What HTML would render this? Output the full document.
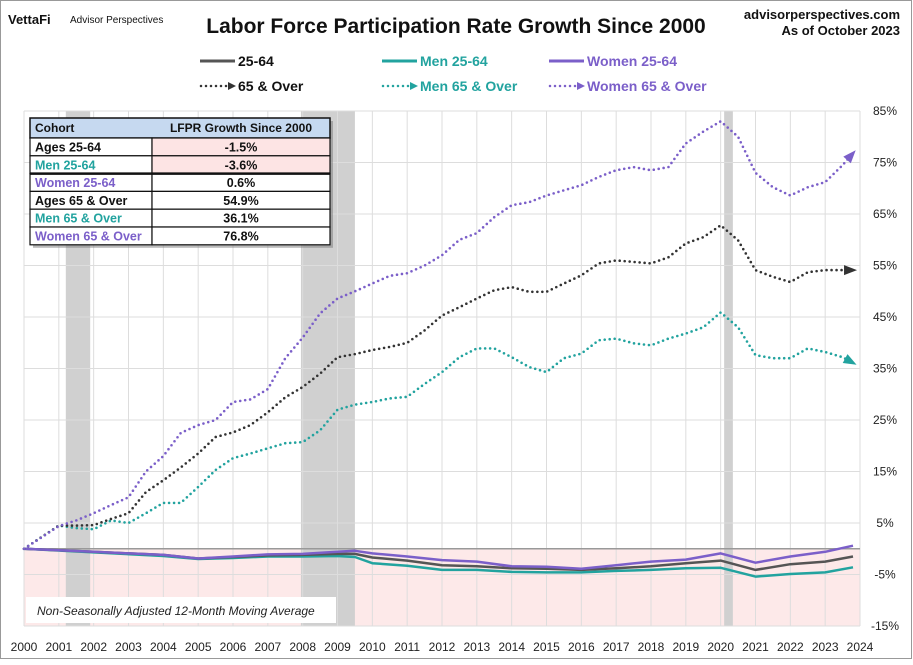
<!DOCTYPE html>
<html><head><meta charset="utf-8"><style>
body{margin:0;background:#fff;}
svg text{font-family:"Liberation Sans",sans-serif;}
</style></head><body>
<svg width="913" height="660" viewBox="0 0 913 660" xmlns="http://www.w3.org/2000/svg">
<rect x="0.5" y="0.5" width="911" height="658" fill="#fff" stroke="#999"/>
<g id="plot"></g>
<g id="overlay"></g>
</svg>
<script>
const years = [2000,2001,2002,2003,2004,2005,2006,2007,2008,2009,2010,2011,2012,2013,2014,2015,2016,2017,2018,2019,2020,2021,2022,2023,2024];
const yTicks = [85,75,65,55,45,35,25,15,5,-5,-15];
const recessions = [[2001.2,2001.9],[2007.95,2009.5],[2020.1,2020.35]];
const tHalf = [2000,2001,2001.5,2002,2002.5,2003,2003.5,2004,2004.5,2005,2005.5,2006,2006.5,2007,2007.5,2008,2008.5,2009,2009.5,2010,2010.5,2011,2011.5,2012,2012.5,2013,2013.5,2014,2014.5,2015,2015.5,2016,2016.5,2017,2017.5,2018,2018.5,2019,2019.5,2020,2020.5,2021,2021.5,2022,2022.5,2023,2023.5,2023.8];
const women65 = [0,4.4,5.5,6.9,8.5,10,15,18,22.5,24,25,28.5,29,31,37,41,45.7,48.6,50,51.5,53,53.5,55,57,60,61.3,64.4,66.7,67.3,68.6,69.6,70.6,72.2,73.5,74.1,73.5,74.1,78.7,81,83,80,73,70.2,68.6,70.2,71.2,74.5,76.8];
const all65 = [0,4.5,4.5,4.6,5.8,6.9,11,13.3,15.8,18.5,21.7,22.6,24,26.5,29.4,31.4,34,37.2,37.8,38.6,39.2,40,42.4,45.3,46.9,48.6,50.2,50.8,49.9,49.9,51.5,53.1,55.4,56,55.7,55.4,56.6,59.3,60.5,62.8,59.9,54.1,52.8,51.8,53.7,54.1,54.1,54.1];
const men65 = [0,4.5,4,3.8,5.5,5,6.9,8.9,8.9,12,15.3,17.6,18.5,19.5,20.5,20.7,23,27,28,28.5,29.2,29.5,32,34.3,37.2,38.9,38.9,37.2,35.3,34.3,37,37.9,40.5,40.8,39.9,39.5,40.8,41.8,43,45.9,43,37.6,37,37,38.9,38.2,37.2,36.1];
const tYear = [2000,2002,2004,2005,2006,2007,2008,2009,2009.5,2010,2011,2012,2013,2014,2015,2016,2017,2018,2019,2020,2021,2022,2023,2023.8];
const women2564 = [0,-0.6,-1.2,-1.9,-1.5,-1.1,-1,-0.6,-0.4,-0.9,-1.5,-2.2,-2.5,-3.4,-3.5,-3.9,-3.2,-2.5,-2.1,-0.9,-2.7,-1.5,-0.6,0.6];
const all2564 = [0,-0.6,-1.2,-1.9,-1.6,-1.3,-1.2,-1,-1,-1.7,-2.3,-3.2,-3.4,-3.8,-3.9,-4.1,-3.8,-3.4,-2.8,-2.3,-4.1,-3,-2.5,-1.5];
const men2564 = [0,-0.7,-1.4,-2,-1.8,-1.5,-1.5,-1.4,-1.6,-2.8,-3.3,-4.1,-4.1,-4.5,-4.6,-4.6,-4.3,-4.1,-3.8,-3.7,-5.4,-4.9,-4.6,-3.6];
const cohorts = ["Ages 25-64","Men 25-64","Women 25-64","Ages 65 & Over","Men 65 & Over","Women 65 & Over"];
const growth = ["-1.5%","-3.6%","0.6%","54.9%","36.1%","76.8%"];

const NS="http://www.w3.org/2000/svg";
const X0=24,X1=860,Y85=111,Ym15=626;
const xs=t=>X0+(t-2000)*(X1-X0)/24;
const ys=v=>Ym15-(v+15)*(Ym15-Y85)/100;
function mk(tag,attrs,parent){const e=document.createElementNS(NS,tag);for(const k in attrs)e.setAttribute(k,attrs[k]);parent.appendChild(e);return e;}
const plot=document.getElementById('plot');
const ov=document.getElementById('overlay');
const svg=document.querySelector('svg');
// negative region
let neg=mk('rect',{x:X0,y:ys(0),width:X1-X0,height:Ym15-ys(0),fill:'#fde9e9'},plot);


recessions.forEach(r=>{let e=mk('rect',{x:xs(r[0]),y:Y85,width:xs(r[1])-xs(r[0]),height:Ym15-Y85,fill:'#d0d0d0'},plot);

});
years.forEach(y=>{let l=mk('line',{x1:xs(y),x2:xs(y),y1:Y85,y2:Ym15,stroke:'#ddd','stroke-width':1},plot);


let t=mk('text',{x:xs(y),y:651,'text-anchor':'middle','font-size':'12',fill:'#222'},plot);t.textContent=y;

});
yTicks.forEach(v=>{let l=mk('line',{x1:X0,x2:X1,y1:ys(v),y2:ys(v),stroke:'#ddd'},plot);


let t=mk('text',{x:885,y:ys(v)+4,'text-anchor':'middle','font-size':'12',fill:'#222'},plot);t.textContent=v+'%';

});
let z=mk('line',{x1:X0,x2:X1,y1:ys(0),y2:ys(0),stroke:'#999','stroke-width':1.5},plot);


function path(ts,vs){return ts.map((t,i)=>(i?'L':'M')+xs(t).toFixed(1)+','+ys(vs[i]).toFixed(1)).join(' ');}
function arrow(ts,vs,col){const n=ts.length-1;const x2=xs(ts[n]),y2=ys(vs[n]),x1=xs(ts[n-1]),y1=ys(vs[n-1]);const a=Math.atan2(y2-y1,x2-x1);const L=9,W=5;
const p=[[x2+4*Math.cos(a),y2+4*Math.sin(a)],[x2-L*Math.cos(a)+W*Math.sin(a),y2-L*Math.sin(a)-W*Math.cos(a)],[x2-L*Math.cos(a)-W*Math.sin(a),y2-L*Math.sin(a)+W*Math.cos(a)]];
return p.map(q=>q.join(',')).join(' ');}
const solid=[[men2564,'#22a39f','men-25-64-line'],[all2564,'#555','ages-25-64-line'],[women2564,'#7b5fc9','women-25-64-line']];
solid.forEach(s=>{let e=mk('path',{d:path(tYear,s[0]),fill:'none',stroke:s[1],'stroke-width':2.5,'stroke-linejoin':'round'},plot);

});
const dotted=[[men65,'#22a39f','men-65-over-line'],[all65,'#333','ages-65-over-line'],[women65,'#7b5fc9','women-65-over-line']];
dotted.forEach(s=>{let e=mk('path',{d:path(tHalf,s[0]),fill:'none',stroke:s[1],'stroke-width':2.6,'stroke-dasharray':'0 5','stroke-linecap':'round'},plot);


let a=mk('polygon',{points:arrow(tHalf,s[0]),fill:s[1]},plot);

});
// note box
let nb=mk('rect',{x:26,y:597,width:310,height:26,fill:'#fff'},ov);


let nt=mk('text',{x:37,y:615,'font-size':'12','font-style':'italic',fill:'#222'},ov);nt.textContent='Non-Seasonally Adjusted 12-Month Moving Average';


// table
const TX=30,TC=152,TR=330,TY=118,HH=20,RH=17.8;
let sh=mk('rect',{x:TX+3,y:TY+3,width:TR-TX,height:HH+RH*6,fill:'#777',opacity:0.5},ov);


let hd=mk('rect',{x:TX,y:TY,width:TR-TX,height:HH,fill:'#c6d9f0',stroke:'#111','stroke-width':1.5},ov);


let h1=mk('text',{x:TX+5,y:TY+14,'font-size':'12','font-weight':'bold',fill:'#111'},ov);h1.textContent='Cohort';


let h2=mk('text',{x:(TC+TR)/2,y:TY+14,'font-size':'12','font-weight':'bold',fill:'#111','text-anchor':'middle'},ov);h2.textContent='LFPR Growth Since 2000';


const cols=['#111','#22a39f','#7b5fc9','#111','#22a39f','#7b5fc9'];
cohorts.forEach((c,i)=>{const y=TY+HH+i*RH;
let r1=mk('rect',{x:TX,y:y,width:TC-TX,height:RH,fill:'#fff',stroke:'#111','stroke-width':1.2},ov);


let r2=mk('rect',{x:TC,y:y,width:TR-TC,height:RH,fill:i<2?'#fde4e4':'#fff',stroke:'#111','stroke-width':1.2},ov);


let t1=mk('text',{x:TX+5,y:y+13.5,'font-size':'12.5','font-weight':'bold',fill:cols[i]},ov);t1.textContent=c;


let t2=mk('text',{x:(TC+TR)/2,y:y+13.5,'font-size':'12.5','font-weight':'bold',fill:'#111','text-anchor':'middle'},ov);t2.textContent=growth[i];

});
let thick=mk('line',{x1:TX,x2:TR,y1:TY+HH+2*RH,y2:TY+HH+2*RH,stroke:'#111','stroke-width':2.5},ov);


// header texts
function txt(x,y,s,attrs,name){let t=mk('text',Object.assign({x:x,y:y},attrs),svg);t.textContent=s;

return t;}
txt(8,24,'VettaFi',{'font-size':'13','font-weight':'bold',fill:'#111'},'vettafi-logo');
txt(70,23,'Advisor Perspectives',{'font-size':'10',fill:'#111'},'advisor-perspectives-logo');
txt(456,33,'Labor Force Participation Rate Growth Since 2000',{'font-size':'21','font-weight':'bold',fill:'#111','text-anchor':'middle'},'chart-title');
txt(900,19,'advisorperspectives.com',{'font-size':'13','font-weight':'bold',fill:'#111','text-anchor':'end'},'source-url');
txt(900,35,'As of October 2023',{'font-size':'13','font-weight':'bold',fill:'#111','text-anchor':'end'},'as-of-date');
// legend
const leg=[[200,61,'#555','25-64',false,'#111'],[382,61,'#22a39f','Men 25-64',false,'#22a39f'],[549,61,'#7b5fc9','Women 25-64',false,'#7b5fc9'],
[200,86,'#333','65 & Over',true,'#111'],[382,86,'#22a39f','Men 65 & Over',true,'#22a39f'],[549,86,'#7b5fc9','Women 65 & Over',true,'#7b5fc9']];
leg.forEach(l=>{const g=mk('g',{},svg);


if(!l[4]){mk('line',{x1:l[0],x2:l[0]+35,y1:l[1],y2:l[1],stroke:l[2],'stroke-width':3},g);}
else{mk('line',{x1:l[0]+1,x2:l[0]+27,y1:l[1],y2:l[1],stroke:l[2],'stroke-width':2.5,'stroke-dasharray':'0 5','stroke-linecap':'round'},g);
mk('polygon',{points:`${l[0]+36},${l[1]} ${l[0]+28},${l[1]-4} ${l[0]+28},${l[1]+4}`,fill:l[2]},g);}
const t=mk('text',{x:l[0]+38,y:l[1]+5,'font-size':'14','font-weight':'bold',fill:l[5]},g);t.textContent=l[3];});
</script>
</body></html>
